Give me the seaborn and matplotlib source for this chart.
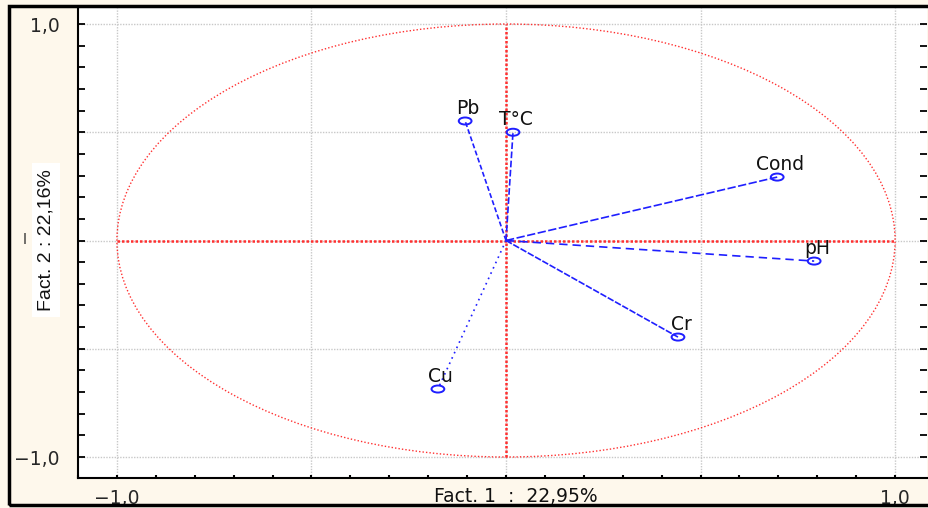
import numpy as np
import pandas as pd
import matplotlib
matplotlib.use("Agg")
import matplotlib.pyplot as plt
from matplotlib.patches import Circle, Rectangle
from matplotlib.path import Path
from matplotlib.transforms import Affine2D
from matplotlib.ticker import FixedLocator, FixedFormatter, MultipleLocator
import seaborn as sns

# Factor loadings of the variables on the first two factors
variables = ["Pb", "T°C", "Cond", "pH", "Cr", "Cu"]
fact1 = [-0.105, 0.018, 0.697, 0.792, 0.442, -0.175]
fact2 = [0.552, 0.500, 0.293, -0.095, -0.446, -0.686]

fact1_label = "Fact. 1  :  22,95%"
fact2_label = "Fact. 2 : 22,16%"
tick_values = [-1.0, -0.5, 0.0, 0.5, 1.0]
tick_labels = ["\u22121,0", "", "", "", "1,0"]

# line pattern used for each loading vector
vector_styles = {
    "Pb": (0, (3, 1.5)),
    "T°C": (0, (4, 1.5)),
    "Cond": (0, (5, 1.5)),
    "pH": (0, (5, 3)),
    "Cr": (0, (4, 1)),
    "Cu": (0, (1, 2.5)),
}

sns.set_theme(style="white")
plt.rcParams["font.family"] = ["DejaVu Sans"]

BG = "#fef8ec"
BLUE = "#1f1fff"
RED = "#ff3030"

fig = plt.figure(figsize=(9.29, 5.08), dpi=100, facecolor=BG)
ax = fig.add_axes([78 / 929, 30 / 508, 849 / 929, 470 / 508])
ax.set_facecolor("white")

# unit correlation circle and the two factor axes
ax.add_patch(Circle((0, 0), 1.0, fill=False, edgecolor=RED,
                    linestyle=(0, (1, 1.5)), linewidth=1.0, zorder=2))
ax.plot([0, 0], [-1, 1], color=RED, linestyle=(0, (1, 0.8)), linewidth=1.8, zorder=2)
ax.plot([-1, 1], [0, 0], color=RED, linestyle=(0, (1, 0.8)), linewidth=1.8, zorder=2)

# loading vectors from the origin
for name, x, y in zip(variables, fact1, fact2):
    seg = pd.DataFrame({"x": [0.0, x], "y": [0.0, y]})
    sns.lineplot(data=seg, x="x", y="y", sort=False, ax=ax, color=BLUE,
                 linewidth=1.2, linestyle=vector_styles[name], zorder=3)

# open elliptical markers at the loadings
ellipse = Path.unit_circle().transformed(Affine2D().scale(1.0, 0.55))
sns.scatterplot(x=fact1, y=fact2, marker=ellipse, s=85, ax=ax, zorder=5)
pts = ax.collections[-1]
pts.set_facecolor("none")
pts.set_edgecolor(BLUE)
pts.set_linewidth(1.4)

for name, x, y in zip(variables, fact1, fact2):
    ax.annotate(name, (x, y), xytext=(3, 7), textcoords="offset pixels",
                ha="center", va="baseline", fontsize=13.5, color="#111111", zorder=6)

ax.set_xlim(-1.1, 1.082)
ax.set_ylim(-1.097, 1.074)

for axis in (ax.xaxis, ax.yaxis):
    axis.set_major_locator(FixedLocator(tick_values))
    axis.set_major_formatter(FixedFormatter(tick_labels))
    axis.set_minor_locator(MultipleLocator(0.1))

ax.grid(True, which="major", color="#c8c8c8", linestyle=(0, (1, 1)), linewidth=1.0, zorder=0)

for side in ("top", "right"):
    ax.spines[side].set_visible(False)
for side in ("left", "bottom"):
    ax.spines[side].set_color("black")
    ax.spines[side].set_linewidth(1.5)

ax.tick_params(axis="y", which="both", direction="in", length=5, width=1.3,
               left=True, right=True, color="black", labelsize=13.5, pad=13)
ax.tick_params(axis="x", which="both", direction="in", length=2.5, width=1.5,
               bottom=True, color="black", labelsize=13.5, pad=8)

ax.set_xlabel(fact1_label, fontsize=13.5, va="center", color="#111111")
ax.xaxis.set_label_coords((516 - 78) / 849, -(496 - 478) / 470)
ax.set_ylabel(fact2_label, fontsize=14, va="center", color="#111111",
              family=["Liberation Sans Narrow", "Liberation Sans", "DejaVu Sans"],
              bbox=dict(facecolor="white", edgecolor="none", pad=4))
ax.yaxis.set_label_coords((46 - 78) / 849, (478 - 240) / 470)

fig.text(25 / 929, 1 - 239 / 508, "|", fontsize=8, ha="center", va="center",
         color="#222222", fontweight="bold")

# outer frame around the figure
fig.add_artist(Rectangle((9 / 929, 3 / 508), 1.0, 499 / 508, transform=fig.transFigure,
                         fill=False, edgecolor="black", linewidth=2.5, clip_on=False))

fig.savefig("out.png", dpi=100, facecolor=BG)
